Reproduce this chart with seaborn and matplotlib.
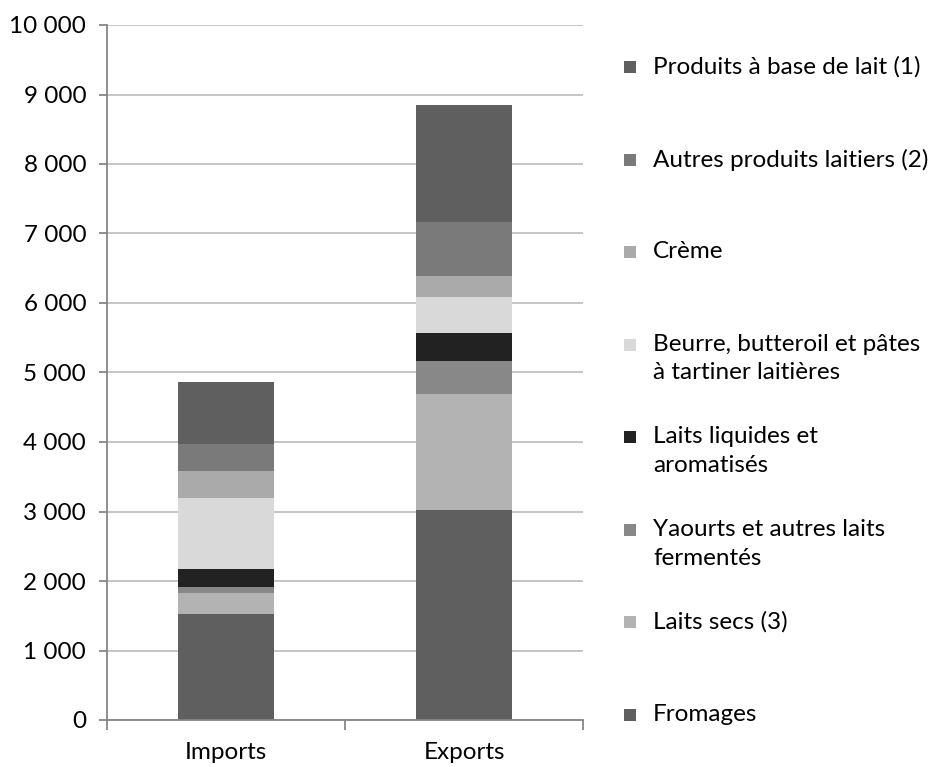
import numpy as np
import pandas as pd
import matplotlib
matplotlib.use("Agg")
import matplotlib.pyplot as plt
import seaborn as sns
from matplotlib.patches import Rectangle
from matplotlib.ticker import FuncFormatter, FixedLocator

categories = ["Imports", "Exports"]
series = ["Fromages", "Laits secs (3)", "Yaourts et autres laits\nfermentés",
          "Laits liquides et\naromatisés", "Beurre, butteroil et pâtes\nà tartiner laitières",
          "Crème", "Autres produits laitiers (2)", "Produits à base de lait (1)"]
fromages = [1520, 3020]
laits_secs = [310, 1670]
yaourts = [85, 475]
laits_liquides = [255, 400]
beurre = [1025, 515]
creme = [390, 305]
autres = [385, 780]
produits = [900, 1690]
colors = ["#5f5f5f", "#b3b3b3", "#888888", "#222222", "#d9d9d9", "#aaaaaa", "#7a7a7a", "#5f5f5f"]
yticks = list(range(0, 10001, 1000))

values = [fromages, laits_secs, yaourts, laits_liquides, beurre, creme, autres, produits]
cum = np.cumsum(np.array(values, dtype=float), axis=0)

sns.set_theme(style="white")
plt.rcParams['font.family'] = ['Lato', 'DejaVu Sans']
FS = 17.5

fig = plt.figure(figsize=(9.36, 7.67), dpi=100)
W, H = 936, 767
ax = fig.add_axes([107 / W, (H - 720) / H, 476 / W, 695 / H])

# stacked bars: draw cumulative totals from top series downward
for i in range(len(series) - 1, -1, -1):
    df = pd.DataFrame({"cat": categories, "val": cum[i]})
    sns.barplot(data=df, x="cat", y="val", color=colors[i], saturation=1,
                width=0.4, ax=ax, zorder=2, linewidth=0)

ax.set_ylim(0, 10000)
ax.set_xlim(-0.5, 1.5)
ax.yaxis.set_major_locator(FixedLocator(yticks))
ax.yaxis.set_major_formatter(FuncFormatter(lambda v, p: f"{int(v):,}".replace(",", " ")))
ax.grid(axis="y", color="#c0c0c0", linewidth=1.3, zorder=0)
ax.set_axisbelow(True)
ax.set_xlabel("")
ax.set_ylabel("")
for s in ["top", "right"]:
    ax.spines[s].set_visible(False)
for s in ["left", "bottom"]:
    ax.spines[s].set_color("#868686")
    ax.spines[s].set_linewidth(1.3)
ax.tick_params(axis="y", which="major", left=True, length=6, width=1.3, color="#868686",
               labelsize=FS, labelcolor="#000000", pad=9)
ax.tick_params(axis="x", which="major", bottom=False, labelsize=FS, labelcolor="#000000", pad=10)
ax.xaxis.set_minor_locator(FixedLocator([-0.5, 0.5, 1.5]))
ax.tick_params(axis="x", which="minor", bottom=True, length=7, width=1.3, color="#868686")

# legend (reverse order, evenly spaced on the right)
n = len(series)
for k in range(n):
    i = n - 1 - k
    yc = 67 + k * (715 - 67) / (n - 1)
    sq = 12
    fig.patches.append(Rectangle((624 / W, (H - yc - sq / 2) / H), sq / W, sq / H,
                                 transform=fig.transFigure, facecolor=colors[i],
                                 edgecolor="none"))
    fig.text(653 / W, (H - yc + 11) / H, series[i], fontsize=FS, va="top", ha="left",
             color="#000000", linespacing=1.45)

fig.savefig("out.png", dpi=100)
